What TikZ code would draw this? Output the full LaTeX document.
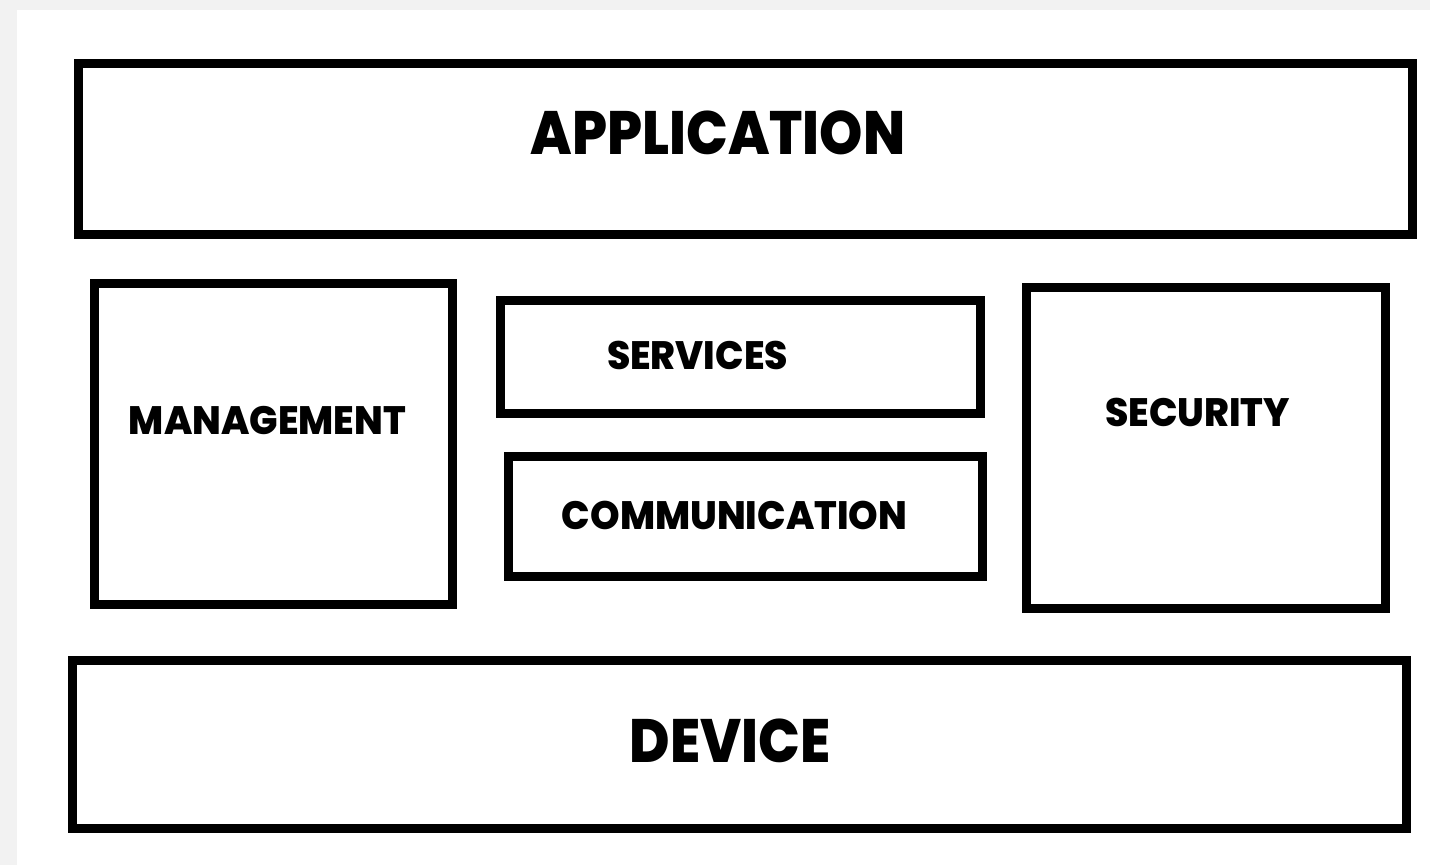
\documentclass[tikz,border=0pt]{standalone}
\usepackage{fontspec}
\newfontfamily\bigfont{Poppins}[FakeStretch=0.9, BoldFont={* ExtraBold}]
\newfontfamily\smallfont{Poppins}[FakeStretch=0.95, BoldFont={* ExtraBold}]
\usetikzlibrary{positioning}

\begin{document}
\begin{tikzpicture}[x=0.5pt, y=-0.5pt,
		layer/.style={draw, line width=4.5pt, rectangle, inner sep=0pt},
		big/.style={font=\bigfont\bfseries\fontsize{30.6}{31}\selectfont, inner sep=0pt},
		small/.style={font=\smallfont\bfseries\fontsize{19.8}{20}\selectfont, inner sep=0pt}]
		% page
		\fill[black!5] (0,0) rectangle (1430,865);
		\fill[white] (17,10) rectangle (1430,865);
		\useasboundingbox (0,0) rectangle (1430,865);
		
		% layers
		\node[layer, minimum width=667pt, minimum height=85.5pt] (app) at (745,149.5) {};
		\node[layer, minimum width=179pt, minimum height=160.5pt] (mgmt) at (273.5,444) {};
		\node[layer, minimum width=240pt, minimum height=56.5pt] (serv) at (740.5,357) {};
		\node[layer, minimum width=237pt, minimum height=60pt] (comm) at (745.5,516.5) {};
		\node[layer, minimum width=179.5pt, minimum height=160.5pt] (sec) at (1206,448) {};
		\node[layer, minimum width=667pt, minimum height=84pt] (dev) at (739.5,744.5) {};
		
		% labels
		\node[big] (apptext) at (718,132.5) {APPLICATION};
		\node[small] (mgmttext) at (267.5,421) {MANAGEMENT};
		\node[small] (servtext) at (697.5,355) {SERVICES};
		\node[small] (commtext) at (734.5,515) {COMMUNICATION};
		\node[small] (sectext) at (1197.5,412.5) {SECURITY};
		\node[big] (devtext) at (730,740.5) {DEVICE};
	\end{tikzpicture}
\end{document}
